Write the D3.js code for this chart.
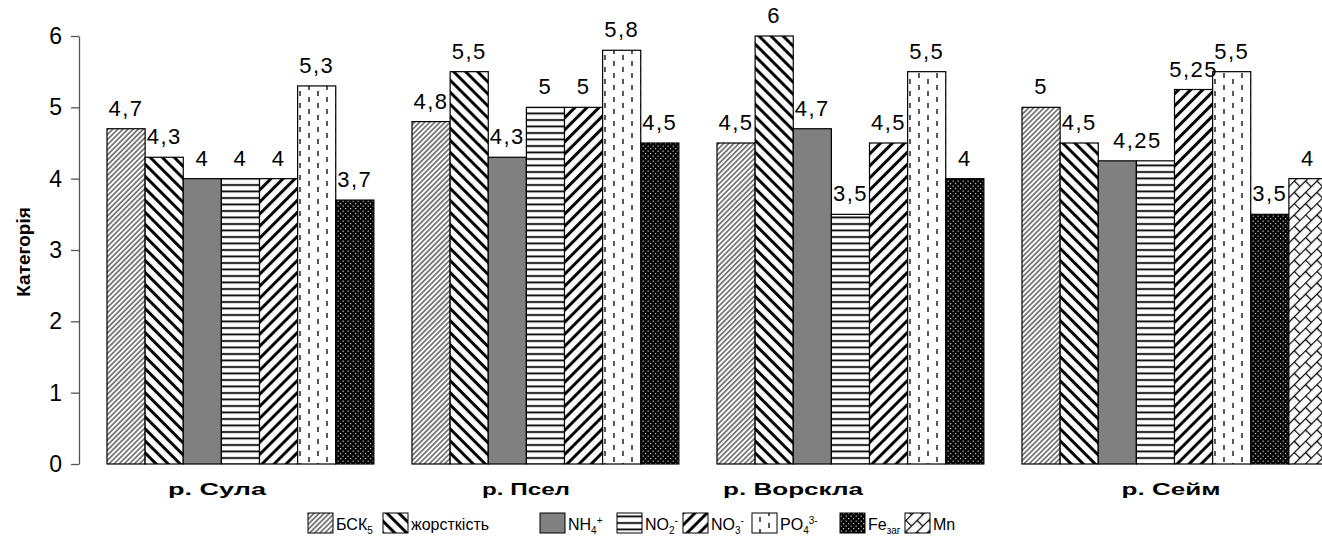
<!DOCTYPE html>
<html>
<head>
<meta charset="utf-8">
<script src="https://cdn.jsdelivr.net/npm/d3@7"></script>
<style>
  html, body { margin: 0; padding: 0; background: #fff; }
  svg { display: block; font-family: "Liberation Sans", Arial, sans-serif; }
</style>
</head>
<body>
<svg id="chart" width="1322" height="544"></svg>
<script>
// Rivers (categories)
const rivers = ["р. Сула", "р. Псел", "р. Ворскла", "р. Сейм"];

// Indicator categories per river (values in river order)
const bsk    = [4.7, 4.8, 4.5, 5];
const zhorst = [4.3, 5.5, 6, 4.5];
const nh4    = [4, 4.3, 4.7, 4.25];
const no2    = [4, 5, 3.5, 4.25];
const no3    = [4, 5, 4.5, 5.25];
const po4    = [5.3, 5.8, 5.5, 5.5];
const fe     = [3.7, 4.5, 4, 3.5];
const mn     = [null, null, null, 4];

const yTicks = [0, 1, 2, 3, 4, 5, 6];

const seriesKeys = ["bsk", "zhorst", "nh4", "no2", "no3", "po4", "fe", "mn"];
const seriesValues = { bsk, zhorst, nh4, no2, no3, po4, fe, mn };

// Legend labels with sub/superscript parts
const legendLabels = {
  bsk:    [["БСК"], ["5", "sub"]],
  zhorst: [["жорсткість"]],
  nh4:    [["NH"], ["4", "sub"], ["+", "sup"]],
  no2:    [["NO"], ["2", "sub"], ["-", "sup"]],
  no3:    [["NO"], ["3", "sub"], ["-", "sup"]],
  po4:    [["PO"], ["4", "sub"], ["3-", "sup"]],
  fe:     [["Fe"], ["заг", "sub"]],
  mn:     [["Mn"]]
};

const svg = d3.select("#chart");
const defs = svg.append("defs");

// ---- fill patterns ----
function linePattern(id, spacing, angle, strokeW, color) {
  const p = defs.append("pattern").attr("id", id)
    .attr("patternUnits", "userSpaceOnUse")
    .attr("width", spacing).attr("height", spacing)
    .attr("patternTransform", `rotate(${angle})`);
  p.append("rect").attr("width", spacing).attr("height", spacing).attr("fill", "#fff");
  p.append("line").attr("x1", spacing / 2).attr("x2", spacing / 2)
    .attr("y1", 0).attr("y2", spacing)
    .attr("stroke", color).attr("stroke-width", strokeW);
}
linePattern("p-bsk", 3.6, 45, 1.1, "#222");
linePattern("p-zhorst", 8.5, -45, 3, "#000");
linePattern("p-no3", 8.5, 45, 3, "#000");

// horizontal lines
(function () {
  const p = defs.append("pattern").attr("id", "p-no2")
    .attr("patternUnits", "userSpaceOnUse").attr("width", 6.5).attr("height", 6.5);
  p.append("rect").attr("width", 6.5).attr("height", 6.5).attr("fill", "#fff");
  p.append("line").attr("x1", 0).attr("x2", 6.5).attr("y1", 3).attr("y2", 3)
    .attr("stroke", "#000").attr("stroke-width", 1.8);
})();

// vertical dashes
(function () {
  const p = defs.append("pattern").attr("id", "p-po4")
    .attr("patternUnits", "userSpaceOnUse").attr("width", 18).attr("height", 12);
  p.append("rect").attr("width", 18).attr("height", 12).attr("fill", "#fff");
  const st = (l) => l.attr("stroke", "#000").attr("stroke-width", 1.3);
  st(p.append("line").attr("x1", 4).attr("x2", 4).attr("y1", 1).attr("y2", 6));
  st(p.append("line").attr("x1", 13).attr("x2", 13).attr("y1", 7).attr("y2", 12));
})();

// black with white dots
(function () {
  const p = defs.append("pattern").attr("id", "p-fe")
    .attr("patternUnits", "userSpaceOnUse").attr("width", 5).attr("height", 5);
  p.append("rect").attr("width", 5).attr("height", 5).attr("fill", "#000");
  p.append("rect").attr("x", 0.6).attr("y", 0.6).attr("width", 1.1).attr("height", 1.1).attr("fill", "#fff");
  p.append("rect").attr("x", 3.1).attr("y", 3.1).attr("width", 1.1).attr("height", 1.1).attr("fill", "#fff");
})();

// diagonal brick
(function () {
  const S = 16, h = S / 2;
  const p = defs.append("pattern").attr("id", "p-mn")
    .attr("patternUnits", "userSpaceOnUse").attr("width", S).attr("height", S)
    .attr("patternTransform", "rotate(-45)");
  p.append("rect").attr("width", S).attr("height", S).attr("fill", "#fff");
  [[0, 0.5, S, 0.5], [0, h + 0.5, S, h + 0.5], [0.5, 0.5, 0.5, h + 0.5], [h + 0.5, h + 0.5, h + 0.5, S + 0.5]]
    .forEach(([x1, y1, x2, y2]) => {
      p.append("line").attr("x1", x1).attr("y1", y1).attr("x2", x2).attr("y2", y2)
        .attr("stroke", "#000").attr("stroke-width", 1.3);
    });
})();

const fills = {
  bsk: "url(#p-bsk)", zhorst: "url(#p-zhorst)", nh4: "#808080", no2: "url(#p-no2)",
  no3: "url(#p-no3)", po4: "url(#p-po4)", fe: "url(#p-fe)", mn: "url(#p-mn)"
};

// ---- scales ----
const groupStep = 305;
const x0 = d3.scaleBand().domain(rivers)
  .range([107, 107 + groupStep * rivers.length]).paddingInner(0).paddingOuter(0);
const x1 = d3.scaleBand().domain(seriesKeys).range([0, x0.bandwidth()]).padding(0);
const y = d3.scaleLinear().domain([0, 6]).range([464, 36]);

// ---- y axis ----
const yAxis = svg.append("g").attr("transform", "translate(79,0)")
  .call(d3.axisLeft(y).tickValues(yTicks).tickSize(8).tickSizeOuter(0).tickPadding(9)
    .tickFormat(d => d));
yAxis.select(".domain").attr("stroke", "#555").attr("stroke-width", 1.3);
yAxis.selectAll(".tick line").attr("stroke", "#555").attr("stroke-width", 1.3);
yAxis.selectAll(".tick text").attr("font-size", 23).attr("fill", "#000")
  .attr("font-family", "Liberation Sans, Arial, sans-serif");

svg.append("text")
  .attr("transform", "translate(30,252) rotate(-90)")
  .attr("text-anchor", "middle").attr("font-size", 19).attr("font-weight", "bold")
  .text("Категорія");

// ---- bars ----
const fmt = v => String(v).replace(".", ",");
// labels that sit off-centre or are merged with a neighbour
const labelNudge = { "р. Сейм|nh4": 20 };
const labelHidden = { "р. Сейм|no2": true };

rivers.forEach((r, i) => {
  const g = svg.append("g").attr("transform", `translate(${x0(r)},0)`);
  const data = seriesKeys.map(k => ({ key: k, value: seriesValues[k][i] }))
    .filter(d => d.value != null);
  g.selectAll("rect").data(data).join("rect")
    .attr("x", d => x1(d.key)).attr("width", x1.bandwidth())
    .attr("y", d => y(d.value)).attr("height", d => y(0) - y(d.value))
    .attr("fill", d => fills[d.key])
    .attr("stroke", "#000").attr("stroke-width", 1.2);
  g.selectAll("text.val").data(data.filter(d => !labelHidden[r + "|" + d.key])).join("text")
    .attr("class", "val")
    .attr("x", d => x1(d.key) + x1.bandwidth() / 2 + (labelNudge[r + "|" + d.key] || 0))
    .attr("y", d => y(d.value) - 13)
    .attr("text-anchor", "middle").attr("font-size", 22).attr("letter-spacing", 1.5)
    .text(d => fmt(d.value));
});

// ---- category labels ----
const catLabelX = [217, 526, 793, 1171];
const catLabelW = [98, 88, 140, 99];
rivers.forEach((r, i) => {
  svg.append("text")
    .attr("x", catLabelX[i] - catLabelW[i] / 2).attr("y", 495)
    .attr("font-size", 16).attr("font-weight", "bold")
    .attr("textLength", catLabelW[i]).attr("lengthAdjust", "spacingAndGlyphs")
    .text(r);
});

// ---- legend ----
const legendX = [308, 383, 540, 617, 683, 752, 840, 905];
const legend = svg.append("g");
seriesKeys.forEach((k, i) => {
  const gx = legendX[i];
  legend.append("rect").attr("x", gx).attr("y", 513).attr("width", 25).attr("height", 20)
    .attr("fill", fills[k]).attr("stroke", "#000").attr("stroke-width", 1);
  const t = legend.append("text").attr("x", gx + 28).attr("y", 530).attr("font-size", 16);
  let shift = 0;
  legendLabels[k].forEach(([s, kind]) => {
    let target = kind === "sub" ? 4 : kind === "sup" ? -6 : 0;
    const ts = t.append("tspan").attr("dy", target - shift).text(s);
    if (kind) ts.attr("font-size", 10);
    shift = target;
  });
});
</script>
</body>
</html>
